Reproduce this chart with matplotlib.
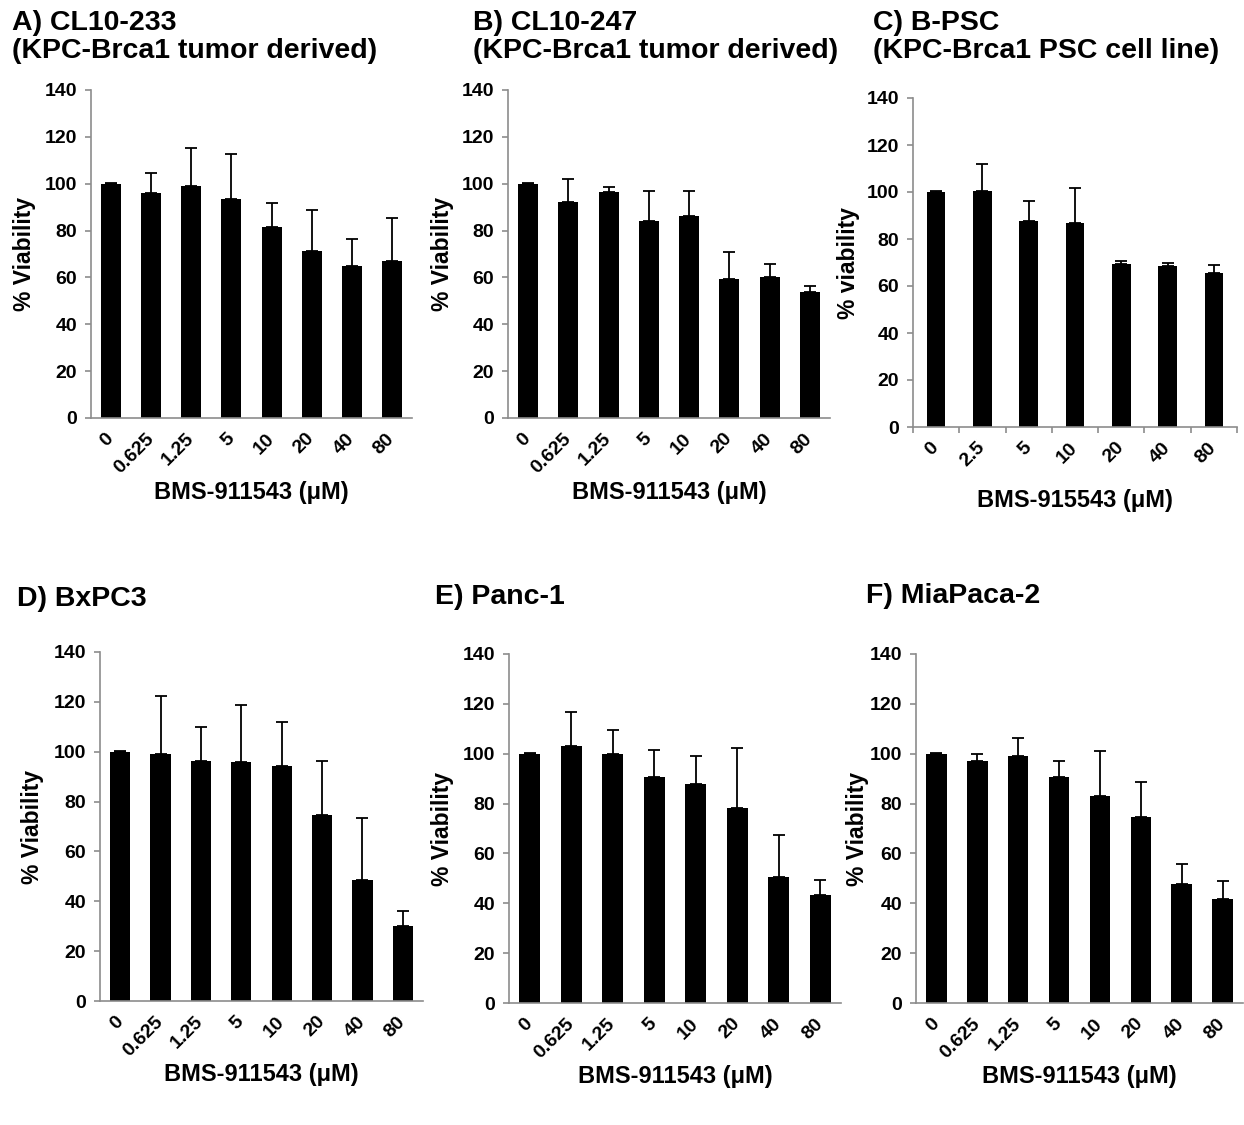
import matplotlib
matplotlib.use("Agg")
import matplotlib.pyplot as plt
import numpy as np

plt.rcParams['font.family'] = ['Liberation Sans', 'DejaVu Sans']
plt.rcParams['font.weight'] = 'bold'

# concentrations (x categories)
conc_8 = ["0", "0.625", "1.25", "5", "10", "20", "40", "80"]
conc_c = ["0", "2.5", "5", "10", "20", "40", "80"]

# % viability means and upper error (SD)
viab_a = [100, 96.2, 99.0, 93.4, 81.6, 71.2, 65.0, 67.1]
err_a = [0.3, 8.5, 16.1, 19.1, 10.0, 17.5, 11.6, 18.1]

viab_b = [100, 92.2, 96.3, 83.9, 86.3, 59.5, 60.1, 53.6]
err_b = [0.3, 9.8, 2.1, 13.1, 10.7, 11.4, 5.6, 2.8]

viab_c = [100, 100.4, 87.8, 86.8, 69.4, 68.5, 65.4]
err_c = [0.3, 11.4, 8.4, 14.9, 1.2, 1.1, 3.7]

viab_d = [100, 99.1, 96.3, 96.0, 94.4, 74.8, 48.5, 30.1]
err_d = [0.3, 23.1, 13.8, 22.6, 17.7, 21.5, 24.8, 6.0]

viab_e = [100, 103.2, 99.9, 90.5, 87.8, 78.1, 50.7, 43.2]
err_e = [0.3, 13.5, 9.6, 10.8, 11.4, 24.1, 16.6, 6.0]

viab_f = [100, 97.1, 99.1, 90.7, 83.0, 74.7, 47.6, 41.8]
err_f = [0.3, 2.7, 7.2, 6.5, 17.9, 13.9, 8.1, 7.1]

titles = [
    "A) CL10-233\n(KPC-Brca1 tumor derived)",
    "B) CL10-247\n(KPC-Brca1 tumor derived)",
    "C) B-PSC\n(KPC-Brca1 PSC cell line)",
    "D) BxPC3",
    "E) Panc-1",
    "F) MiaPaca-2",
]
ylabels = ["% Viability", "% Viability", "% viability",
           "% Viability", "% Viability", "% Viability"]
xlabels = ["BMS-911543 (\u03bcM)", "BMS-911543 (\u03bcM)", "BMS-915543 (\u03bcM)",
           "BMS-911543 (\u03bcM)", "BMS-911543 (\u03bcM)", "BMS-911543 (\u03bcM)"]

panels = [
    (conc_8, viab_a, err_a),
    (conc_8, viab_b, err_b),
    (conc_c, viab_c, err_c),
    (conc_8, viab_d, err_d),
    (conc_8, viab_e, err_e),
    (conc_8, viab_f, err_f),
]

# layout in pixels: axes box (x0, x1, ytop, ybottom), title xy, ylabel x
W, H = 1244, 1125
boxes = [(91, 412, 90, 418), (508, 830, 90, 418), (913, 1237, 98, 427),
         (100, 423, 652, 1001), (509, 841, 654, 1003), (916, 1243, 654, 1003)]
title_xy = [(12, 10), (473, 10), (873, 10), (17, 586), (435, 584), (866, 583)]
ylab_x = [25, 443, 848, 33, 442, 857]

fig = plt.figure(figsize=(W / 100, H / 100), dpi=100)
grey = '#8c8c8c'

for i, (cats, vals, errs) in enumerate(panels):
    x0, x1, yt, yb = boxes[i]
    ax = fig.add_axes([x0 / W, 1 - yb / H, (x1 - x0) / W, (yb - yt) / H])
    pos = np.arange(len(cats))
    width = 0.4 if len(cats) == 7 else 0.5
    ax.bar(pos, vals, width=width, color='black', zorder=2)
    ax.errorbar(pos, vals, yerr=[np.zeros(len(errs)), errs], fmt='none',
                ecolor='black', elinewidth=1.3, capsize=4.5, capthick=1.3, zorder=3)
    ax.set_xlim(-0.5, len(cats) - 0.5)
    ax.set_ylim(0, 140)
    ax.set_yticks(range(0, 141, 20))
    ax.set_xticks(pos)
    ax.set_xticklabels(cats, rotation=45, ha='right', va='center',
                       rotation_mode='anchor', fontsize=14, fontweight='bold')
    for lab in ax.get_yticklabels():
        lab.set_fontsize(14)
        lab.set_fontweight('bold')
    for s in ['top', 'right']:
        ax.spines[s].set_visible(False)
    for s in ['left', 'bottom']:
        ax.spines[s].set_color(grey)
        ax.spines[s].set_linewidth(1.2)
    ax.tick_params(axis='y', direction='out', length=4, width=1.2, color=grey, pad=6)
    if len(cats) == 7:
        ax.set_xticks(np.arange(len(cats) + 1) - 0.5, minor=True)
        ax.tick_params(axis='x', which='minor', direction='out', length=4,
                       width=1.2, color=grey)
    ax.tick_params(axis='x', which='major', length=0, pad=13)

    tx, ty = title_xy[i]
    fig.text(tx / W, 1 - ty / H, titles[i], ha='left', va='top',
             fontsize=20.5, fontweight='bold', linespacing=1.1)
    fig.text(ylab_x[i] / W, 1 - (yt + yb) / 2 / H, ylabels[i], rotation=90,
             ha='center', va='center', fontsize=16.5, fontweight='bold')
    fig.text((x0 + x1) / 2 / W, 1 - (yb + 74) / H, xlabels[i],
             ha='center', va='center', fontsize=17, fontweight='bold')

fig.savefig('out.png', dpi=100)
